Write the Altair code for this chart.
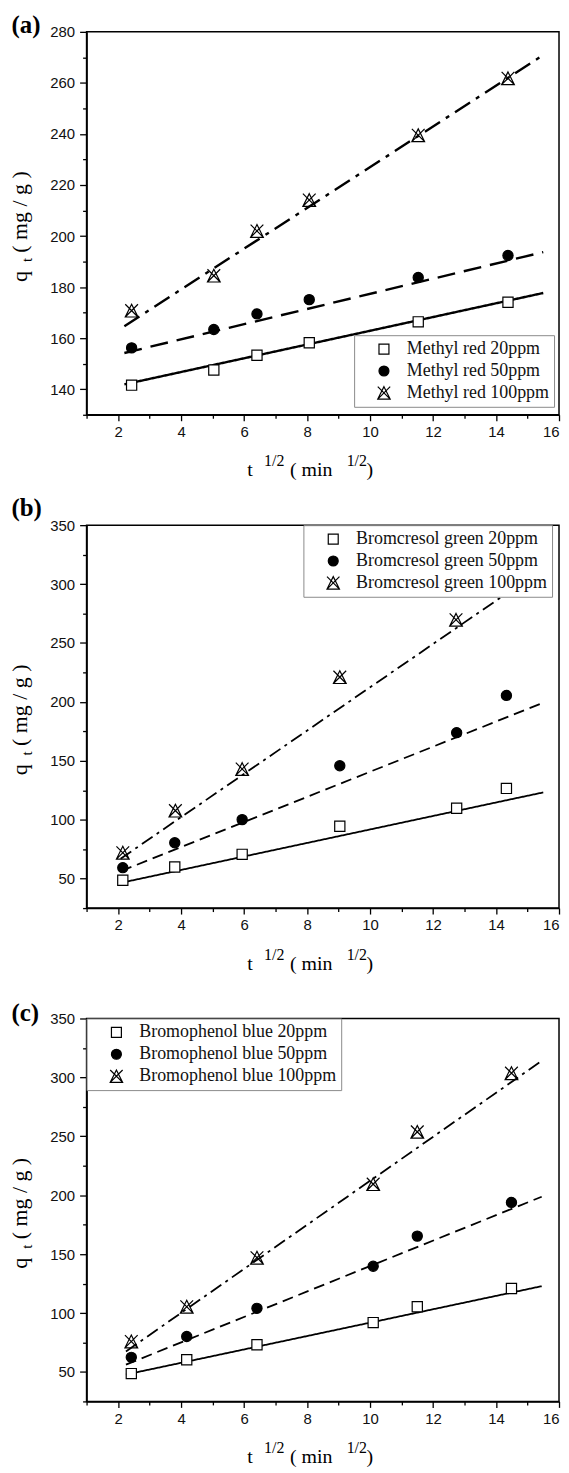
import altair as alt
import pandas as pd

SERIF = "Liberation Serif"
SANS = "Liberation Sans"

# ---------------- (a) Methyl red ----------------
a_names = ["Methyl red 20ppm", "Methyl red 50ppm", "Methyl red 100ppm"]
a_x = [2.43, 5.04, 6.41, 8.07, 11.53, 14.38]
a_q20 = [141.6, 147.5, 153.3, 158.2, 166.4, 174.1]
a_q50 = [156.2, 163.4, 169.5, 175.1, 183.8, 192.4]
a_q100 = [170.8, 184.5, 202.0, 214.1, 239.5, 261.8]
a_fit_x = [2.2, 15.5]
a_fit20 = [141.9, 177.7]
a_fit50 = [154.2, 193.7]
a_fit100 = [164.7, 270.9]
a_ymajor = [140, 160, 180, 200, 220, 240, 260, 280]
a_yminor = [130, 150, 170, 190, 210, 230, 250, 270]
a_ydomain = [130, 280]

# ---------------- (b) Bromcresol green ----------------
b_names = ["Bromcresol green 20ppm", "Bromcresol green 50ppm", "Bromcresol green 100ppm"]
b_x = [2.15, 3.80, 5.94, 9.04, 12.75, 14.33]
b_q20 = [48.6, 59.9, 70.6, 94.5, 109.7, 126.6]
b_q50 = [59.3, 80.4, 100.1, 145.8, 173.9, 205.5]
b_x100 = [2.15, 3.82, 5.94, 9.04, 12.73]
b_q100 = [72.0, 107.7, 143.0, 221.0, 269.7]
b_fit_x = [2.1, 15.5]
b_fit20 = [46.5, 123.2]
b_fit50 = [56.5, 199.3]
b_fit100_x = [2.08, 14.17]
b_fit100 = [66.9, 289.0]

# ---------------- (c) Bromophenol blue ----------------
c_names = ["Bromophenol blue 20ppm", "Bromophenol blue 50ppm", "Bromophenol blue 100ppm"]
c_x = [2.42, 4.18, 6.41, 10.10, 11.50, 14.49]
c_q20 = [48.6, 60.4, 73.1, 91.9, 105.4, 120.8]
c_q50 = [62.4, 80.1, 104.0, 139.7, 165.3, 193.9]
c_q100 = [75.9, 105.4, 147.0, 209.4, 253.8, 303.6]
c_fit_x = [2.25, 15.45]
c_fit20 = [47.8, 122.8]
c_fit50 = [56.2, 198.7]
c_fit100 = [67.4, 314.0]

bc_ymajor = [50, 100, 150, 200, 250, 300, 350]
bc_yminor = [25, 75, 125, 175, 225, 275, 325]
bc_ydomain = [25, 350]

x_major = [2, 4, 6, 8, 10, 12, 14, 16]
x_minor = [1, 3, 5, 7, 9, 11, 13, 15]
x_domain = [1, 16]

W, H = 475, 385
XPATH = "M-1.25,-1.25L1.25,1.25M-1.25,1.25L1.25,-1.25M0,-1.25L1.25,1.25L-1.25,1.25Z"
SHAPES = ["square", "circle", XPATH]
FILLS = ["white", "black", "transparent"]
STROKES = ["black", "black", "black"]


def table(names, xs_list, qs_list):
    rows = []
    for n, xs, qs in zip(names, xs_list, qs_list):
        for xv, qv in zip(xs, qs):
            rows.append({"x": xv, "q": qv, "series": n})
    return pd.DataFrame(rows)


def txt(s, x, y, size, angle=0, bold=False):
    return alt.Chart(pd.DataFrame({"t": [s]})).mark_text(
        align="left", baseline="alphabetic", font=SERIF, fontSize=size,
        angle=angle, fontWeight="bold" if bold else "normal", color="black"
    ).encode(text="t:N", x=alt.value(x), y=alt.value(y))


def panel(label, label_y, names, pts, fits, ydomain, ymajor, yminor,
          lx, ly, lw, dashes):
    fit_kinds = [n + " fit" for n in names]
    fits = fits.assign(series=fits["series"] + " fit")
    xs = alt.Scale(domain=x_domain, nice=False, zero=False)
    ys = alt.Scale(domain=ydomain, nice=False, zero=False)
    legend = alt.Legend(
        orient="none", legendX=lx, legendY=ly, title=None,
        fillColor="white", strokeColor="#8a8a8a", padding=5,
        labelFont=SERIF, labelFontSize=18, labelColor="#111",
        symbolSize=100, symbolStrokeColor="black", symbolStrokeWidth=1.2,
        symbolOffset=16, labelOffset=14, rowPadding=4, labelLimit=400,
    )
    lines = alt.Chart(fits).mark_line(color="black", strokeWidth=lw).encode(
        x=alt.X("x:Q", scale=xs, axis=alt.Axis(values=x_minor, labels=False, title=None,
                                                grid=False, domain=False, tickSize=3.5,
                                                orient="bottom")),
        y=alt.Y("q:Q", scale=ys, axis=alt.Axis(values=yminor, labels=False, title=None,
                                                grid=False, domain=False, tickSize=4,
                                                orient="left")),
        strokeDash=alt.StrokeDash("series:N", scale=alt.Scale(domain=fit_kinds, range=dashes),
                                  legend=None),
    )
    points = alt.Chart(pts).mark_point(filled=True, size=105, strokeWidth=1.2,
                                       opacity=1).encode(
        x=alt.X("x:Q", scale=xs, axis=alt.Axis(values=x_major, title=None, grid=False,
                                                tickSize=6, labelPadding=4, format="d",
                                                orient="bottom")),
        y=alt.Y("q:Q", scale=ys, axis=alt.Axis(values=ymajor, title=None, grid=False,
                                                tickSize=7, labelPadding=5, format="d",
                                                orient="left")),
        shape=alt.Shape("series:N", scale=alt.Scale(domain=names, range=SHAPES),
                        legend=legend),
        fill=alt.Fill("series:N", scale=alt.Scale(domain=names, range=FILLS),
                      legend=legend),
        stroke=alt.Stroke("series:N", scale=alt.Scale(domain=names, range=STROKES),
                          legend=legend),
    )
    texts = [
        txt(label, -75.5, label_y, 25, bold=True),
        txt("q", -59.5, 251.5, 22, angle=270),
        txt("t", -55, 231.5, 15, angle=270),
        txt("( mg / g )", -59.5, 222, 22, angle=270),
        txt("t", 161.5, H + 62, 20),
        txt("1/2", 178.5, H + 52, 16),
        txt("( min", 204.5, H + 62, 20),
        txt("1/2", 261.5, H + 52, 16),
        txt(")", 281.5, H + 62, 20),
    ]
    return alt.layer(lines, points, *texts).resolve_axis(
        x="independent", y="independent"
    ).properties(width=W, height=H)


dash_a = [[1, 0], [18, 9], [18, 7, 4, 7]]
dash_bc = [[1, 0], [11, 6], [13, 5, 3, 5]]

pa = panel(
    "(a)", 1.5, a_names,
    table(a_names, [a_x, a_x, a_x], [a_q20, a_q50, a_q100]),
    table(a_names, [a_fit_x, a_fit_x, a_fit_x], [a_fit20, a_fit50, a_fit100]),
    a_ydomain, a_ymajor, a_yminor, 269, 305, 2.4, dash_a,
)
pb = panel(
    "(b)", -9, b_names,
    table(b_names, [b_x, b_x, b_x100], [b_q20, b_q50, b_q100]),
    table(b_names, [b_fit_x, b_fit_x, b_fit100_x], [b_fit20, b_fit50, b_fit100]),
    bc_ydomain, bc_ymajor, bc_yminor, 218, 0, 1.8, dash_bc,
)
pc = panel(
    "(c)", 2.5, c_names,
    table(c_names, [c_x, c_x, c_x], [c_q20, c_q50, c_q100]),
    table(c_names, [c_fit_x, c_fit_x, c_fit_x], [c_fit20, c_fit50, c_fit100]),
    bc_ydomain, bc_ymajor, bc_yminor, 0, 0, 1.8, dash_bc,
)

chart = alt.vconcat(pa, pb, pc, spacing=111, bounds="flush").resolve_scale(
    shape="independent", fill="independent", stroke="independent",
    strokeDash="independent",
).resolve_legend(
    shape="independent", fill="independent", stroke="independent",
).properties(
    padding={"left": 0, "top": 0, "right": 0, "bottom": 0}
).configure_view(
    stroke="black", strokeWidth=1.5
).configure_axis(
    domainColor="black", domainWidth=1.5, tickColor="black", tickWidth=1.3,
    labelFont=SANS, labelFontSize=15, labelColor="#111",
)

chart.save("out.html", embed_options={"renderer": "svg", "actions": False})
